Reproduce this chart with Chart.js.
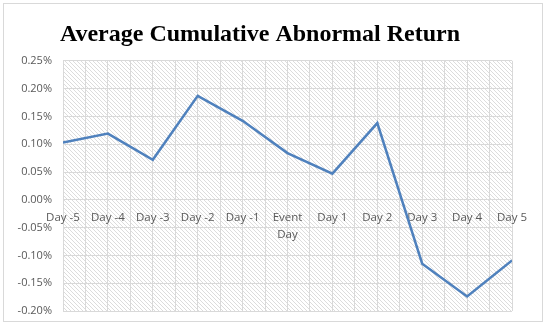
<!DOCTYPE html>
<html>
<head>
<meta charset="utf-8">
<script src="https://cdn.jsdelivr.net/npm/chart.js@4.4.0/dist/chart.umd.min.js"></script>
<style>
html,body{margin:0;padding:0;background:#fff;}
#wrap{width:546px;height:325px;position:relative;}
</style>
</head>
<body>
<div id="wrap"><canvas id="c" width="546" height="325"></canvas></div>
<script>
const categories = ['Day -5','Day -4','Day -3','Day -2','Day -1',['Event','Day'],'Day 1','Day 2','Day 3','Day 4','Day 5'];
const acarValues = [0.103, 0.119, 0.072, 0.187, 0.142, 0.084, 0.047, 0.138, -0.115, -0.174, -0.109];
const yTickMin = -0.20;
const yTickMax = 0.25;
const yTickStep = 0.05;

const points = acarValues.map((v, i) => ({x: i, y: v}));

function makePattern(ctx) {
  const t = document.createElement('canvas');
  t.width = 4; t.height = 4;
  const g = t.getContext('2d');
  g.fillStyle = '#ffffff';
  g.fillRect(0,0,4,4);
  g.strokeStyle = '#dcdcdc';
  g.lineWidth = 1;
  g.beginPath();
  g.moveTo(-1,-1); g.lineTo(5,5);
  g.moveTo(-1,3); g.lineTo(1,5);
  g.moveTo(3,-1); g.lineTo(5,1);
  g.stroke();
  return ctx.createPattern(t, 'repeat');
}

const bgPlugin = {
  id: 'bg',
  beforeDraw(chart) {
    const ctx = chart.ctx;
    ctx.save();
    ctx.fillStyle = '#ffffff';
    ctx.fillRect(0,0,chart.width,chart.height);
    ctx.strokeStyle = '#d9d9d9';
    ctx.lineWidth = 1;
    ctx.strokeRect(3.5,3.5,539,318);
    const a = chart.chartArea;
    ctx.fillStyle = makePattern(ctx);
    ctx.fillRect(a.left, a.top, a.right - a.left, a.bottom - a.top);
    ctx.restore();
  }
};

new Chart(document.getElementById('c'), {
  type: 'line',
  data: {
    datasets: [{
      data: points,
      borderColor: '#4F81BD',
      borderWidth: 2.5,
      pointRadius: 0,
      tension: 0,
      fill: false
    }]
  },
  options: {
    responsive: false,
    animation: false,
    layout: {padding: {left: 8, right: 34, top: 0, bottom: 14}},
    plugins: {
      legend: {display: false},
      tooltip: {enabled: false},
      title: {
        display: true,
        text: 'Average Cumulative Abnormal Return',
        color: '#000000',
        font: {family: 'Liberation Serif', size: 24, weight: 'bold'},
        padding: {top: 20, bottom: 12}
      }
    },
    scales: {
      x: {
        type: 'linear',
        min: 0,
        max: categories.length - 1,
        position: {y: 0},
        border: {display: false},
        grid: {color: '#d9d9d9', drawTicks: false, lineWidth: 1},
        ticks: {
          stepSize: 0.5,
          autoSkip: false,
          maxRotation: 0,
          padding: 10,
          color: '#595959',
          font: {family: 'Open Sans', size: 11.5, lineHeight: 1.45},
          callback: (v) => Number.isInteger(v) ? categories[v] : ''
        }
      },
      y: {
        min: yTickMin,
        max: yTickMax,
        border: {display: false},
        grid: {color: '#d9d9d9', drawTicks: false, lineWidth: 1},
        afterFit(scale) { scale.width = 55; scale.paddingTop = 0; scale.paddingBottom = 0; },
        ticks: {
          stepSize: yTickStep,
          padding: 11,
          color: '#595959',
          font: {family: 'Open Sans', size: 11},
          callback: (v) => v.toFixed(2) + '%'
        }
      }
    }
  },
  plugins: [bgPlugin]
});
</script>
</body>
</html>
